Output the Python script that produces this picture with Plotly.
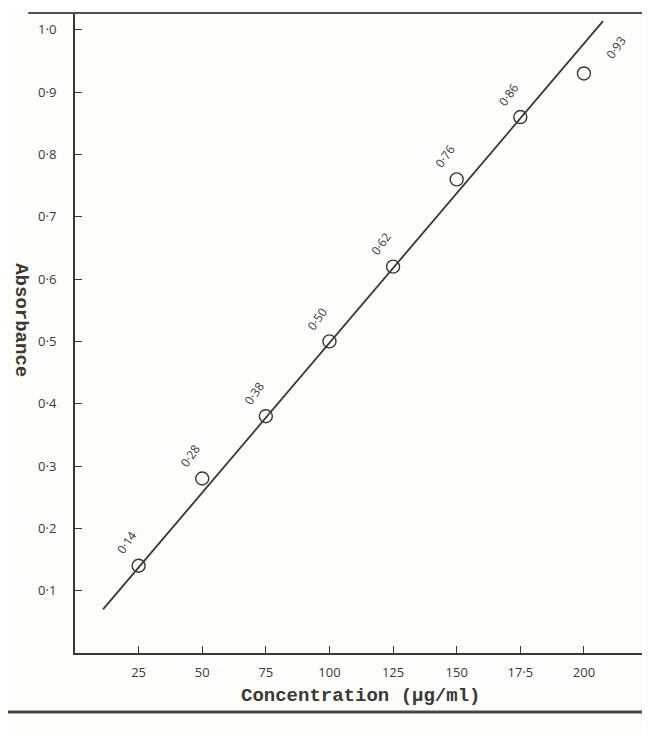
import plotly.graph_objects as go

# calibration data
conc = [25, 50, 75, 100, 125, 150, 175, 200]
absorbance = [0.14, 0.28, 0.38, 0.50, 0.62, 0.76, 0.86, 0.93]
point_labels = ["0·14", "0·28", "0·38", "0·50", "0·62", "0·76", "0·86", "0·93"]

# hand drawn best fit line, end points
fit_x = [11, 207.5]
fit_y = [0.07, 1.014]

x_ticks = [25, 50, 75, 100, 125, 150, 175, 200]
x_ticktext = ["25", "50", "75", "100", "125", "150", "17·5", "200"]
y_ticks = [0.1, 0.2, 0.3, 0.4, 0.5, 0.6, 0.7, 0.8, 0.9, 1.0]
y_ticktext = ["0·1", "0·2", "0·3", "0·4", "0·5", "0·6", "0·7", "0·8", "0·9", "1·0"]

INK = "#3b3834"
HAND = "Open Sans"
TYPE = "Liberation Mono"

fig = go.Figure()

fig.add_trace(go.Scatter(x=fit_x, y=fit_y, mode="lines",
                         line=dict(color=INK, width=1.8), hoverinfo="skip"))

fig.add_trace(go.Scatter(x=conc, y=absorbance, mode="markers",
                         marker=dict(symbol="circle-open", size=13,
                                     color=INK, line=dict(color=INK, width=1.4))))

# rotated value labels beside each point
annotations = []
for i, (cx, cy, txt) in enumerate(zip(conc, absorbance, point_labels)):
    if i == len(conc) - 1:
        xs, ys = 32, 26
    else:
        xs, ys = -12, 23
    annotations.append(dict(x=cx, y=cy, xref="x", yref="y", text=txt,
                            showarrow=False, textangle=-55, xshift=xs, yshift=ys,
                            font=dict(family=HAND, size=12, color=INK)))

# axis titles, typed on the page
annotations.append(dict(x=0.5, y=0, xref="paper", yref="paper", yshift=-43,
                        xanchor="center", yanchor="middle",
                        text="Concentration (µg/ml)", showarrow=False,
                        font=dict(family=TYPE, size=19, color=INK, weight="bold")))
annotations.append(dict(x=0, y=0.52, xref="paper", yref="paper", xshift=-54,
                        xanchor="center", yanchor="middle",
                        text="Absorbance", showarrow=False, textangle=90,
                        font=dict(family=TYPE, size=19, color=INK, weight="bold")))

fig.update_layout(
    width=642, height=726,
    margin=dict(l=67, r=5, t=5, b=81),
    paper_bgcolor="#fdfdfb", plot_bgcolor="#fdfdfb",
    showlegend=False,
    annotations=annotations,
    shapes=[
        # top border of the page
        dict(type="line", xref="paper", yref="paper", x0=-0.082, x1=1.01, y0=1, y1=1,
             line=dict(color="#555049", width=2)),
        # rule under the figure
        dict(type="line", xref="paper", yref="paper", x0=-0.118, x1=1.01, y0=-0.092, y1=-0.092,
             line=dict(color="#4a4640", width=3)),
    ],
)

fig.update_xaxes(
    range=[0, 224], showgrid=False, zeroline=False,
    showline=True, linecolor=INK, linewidth=2,
    tickvals=x_ticks, ticktext=x_ticktext,
    ticks="inside", ticklen=7, tickcolor=INK, tickwidth=1.2,
    ticklabelstandoff=6,
    tickfont=dict(family=HAND, size=13, color=INK),
)
fig.update_yaxes(
    range=[0, 1.027], showgrid=False, zeroline=False,
    showline=True, linecolor=INK, linewidth=2,
    tickvals=y_ticks, ticktext=y_ticktext,
    ticks="inside", ticklen=7, tickcolor=INK, tickwidth=1.2,
    ticklabelstandoff=14,
    tickfont=dict(family=HAND, size=13, color=INK),
)

fig.write_html("out.html")
